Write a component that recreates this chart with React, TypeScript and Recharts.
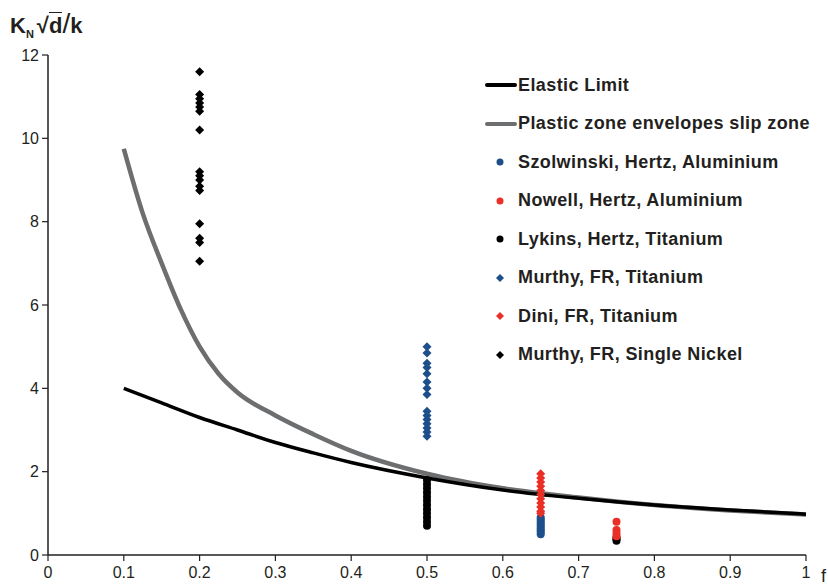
import React from "react";
import { ComposedChart, Line, Scatter, XAxis, YAxis } from "recharts";

const xTicks = [0, 0.1, 0.2, 0.3, 0.4, 0.5, 0.6, 0.7, 0.8, 0.9, 1];
const yTicks = [0, 2, 4, 6, 8, 10, 12];

const elasticX = [0.1, 0.15, 0.2, 0.25, 0.3, 0.35, 0.4, 0.5, 0.6, 0.7, 0.8, 0.9, 1];
const elasticY = [4.0, 3.65, 3.3, 3.0, 2.7, 2.45, 2.22, 1.85, 1.56, 1.36, 1.2, 1.08, 0.98];

const plasticX = [0.1, 0.125, 0.15, 0.175, 0.2, 0.225, 0.25, 0.3, 0.35, 0.4, 0.5, 0.6, 0.7, 0.8, 0.9, 1];
const plasticY = [9.75, 8.2, 7.0, 5.9, 5.0, 4.35, 3.9, 3.35, 2.9, 2.5, 1.95, 1.6, 1.38, 1.2, 1.07, 0.97];

const szolwinskiX = [0.65, 0.65, 0.65, 0.65, 0.65, 0.65, 0.65, 0.65, 0.65];
const szolwinskiY = [0.9, 0.85, 0.8, 0.75, 0.7, 0.65, 0.6, 0.55, 0.5];

const nowellX = [0.75, 0.75, 0.75, 0.75];
const nowellY = [0.8, 0.6, 0.52, 0.45];

const lykinsX = [0.5, 0.5, 0.5, 0.5, 0.5, 0.5, 0.5, 0.5, 0.5, 0.5, 0.5, 0.5, 0.75, 0.75, 0.75];
const lykinsY = [1.8, 1.7, 1.6, 1.5, 1.4, 1.3, 1.2, 1.1, 1.0, 0.9, 0.8, 0.7, 0.42, 0.38, 0.34];

const murthyTiX = Array(15).fill(0.5);
const murthyTiY = [5.0, 4.85, 4.6, 4.5, 4.35, 4.15, 4.0, 3.85, 3.45, 3.35, 3.25, 3.15, 3.05, 2.95, 2.85];

const diniX = Array(11).fill(0.65);
const diniY = [1.95, 1.85, 1.75, 1.65, 1.55, 1.45, 1.35, 1.25, 1.15, 1.05, 1.0];

const nickelX = Array(16).fill(0.2);
const nickelY = [11.6, 11.05, 10.95, 10.85, 10.75, 10.65, 10.2, 9.2, 9.1, 9.0, 8.85, 8.75, 7.95, 7.6, 7.5, 7.05];

const seriesNames = [
  "Elastic Limit",
  "Plastic zone envelopes slip zone",
  "Szolwinski, Hertz, Aluminium",
  "Nowell, Hertz, Aluminium",
  "Lykins, Hertz, Titanium",
  "Murthy, FR, Titanium",
  "Dini, FR, Titanium",
  "Murthy, FR, Single Nickel",
];

const BLUE = "#1d4f8b";
const RED = "#ea2f27";
const BLACK = "#000000";
const GRAY = "#6d6e70";

const zip = (xs: number[], ys: number[]) => xs.map((x, i) => ({ x, y: ys[i] }));

const circle = (color: string) => (props: any) => (
  <circle cx={props.cx} cy={props.cy} r={4} fill={color} />
);
const diamond = (color: string) => (props: any) => {
  const { cx, cy } = props;
  const s = 4.5;
  return <path d={`M${cx},${cy - s}L${cx + s},${cy}L${cx},${cy + s}L${cx - s},${cy}Z`} fill={color} />;
};

const legendItems = [
  { kind: "line", color: BLACK },
  { kind: "line", color: GRAY },
  { kind: "circle", color: BLUE },
  { kind: "circle", color: RED },
  { kind: "circle", color: BLACK },
  { kind: "diamond", color: BLUE },
  { kind: "diamond", color: RED },
  { kind: "diamond", color: BLACK },
];

const font = "'Liberation Sans', Arial, sans-serif";
const tickStyle = { fontFamily: "'Liberation Sans Narrow', 'Liberation Sans', Arial, sans-serif", fontSize: 16, fill: "#231f20" };

export default function App() {
  return (
    <div style={{ position: "absolute", left: 0, top: 0, width: 828, height: 586, background: "#fff", fontFamily: font }}>
      <ComposedChart width={828} height={586} margin={{ top: 55, right: 22, left: 8, bottom: 6 }}>
        <XAxis
          type="number"
          dataKey="x"
          domain={[0, 1]}
          ticks={xTicks}
          interval={0}
          allowDataOverflow
          tick={tickStyle}
          tickSize={6}
          tickMargin={6}
          height={25}
          axisLine={{ stroke: "#231f20", strokeWidth: 1.5 }}
          tickLine={{ stroke: "#231f20", strokeWidth: 1.2 }}
        />
        <YAxis
          type="number"
          dataKey="y"
          domain={[0, 12]}
          ticks={yTicks}
          interval={0}
          allowDataOverflow
          tick={tickStyle}
          tickSize={6}
          tickMargin={3}
          width={40}
          axisLine={{ stroke: "#231f20", strokeWidth: 1.5 }}
          tickLine={{ stroke: "#231f20", strokeWidth: 1.2 }}
        />
        <Line data={zip(plasticX, plasticY)} dataKey="y" type="monotone" stroke={GRAY} strokeWidth={4.5} dot={false} isAnimationActive={false} />
        <Line data={zip(elasticX, elasticY)} dataKey="y" type="monotone" stroke={BLACK} strokeWidth={3.5} dot={false} isAnimationActive={false} />
        <Scatter data={zip(nickelX, nickelY)} dataKey="y" shape={diamond(BLACK)} isAnimationActive={false} />
        <Scatter data={zip(murthyTiX, murthyTiY)} dataKey="y" shape={diamond(BLUE)} isAnimationActive={false} />
        <Scatter data={zip(lykinsX, lykinsY)} dataKey="y" shape={circle(BLACK)} isAnimationActive={false} />
        <Scatter data={zip(szolwinskiX, szolwinskiY)} dataKey="y" shape={circle(BLUE)} isAnimationActive={false} />
        <Scatter data={zip(diniX, diniY)} dataKey="y" shape={diamond(RED)} isAnimationActive={false} />
        <Scatter data={zip(nowellX, nowellY)} dataKey="y" shape={circle(RED)} isAnimationActive={false} />
      </ComposedChart>

      <div style={{ position: "absolute", left: 10, top: 8, fontWeight: "bold", fontSize: 22, color: "#231f20", whiteSpace: "nowrap" }}>
        K<sub style={{ fontSize: 11 }}>N</sub>
        <span style={{ marginLeft: 3 }}>√</span>
        <span style={{ borderTop: "1.5px solid #231f20" }}>d</span>
        <span style={{ fontSize: 28, fontWeight: "normal" }}>/</span>k
      </div>
      <div style={{ position: "absolute", left: 821, top: 566, fontSize: 18, color: "#231f20" }}>f</div>

      <div style={{ position: "absolute", left: 484, top: 66 }}>
        {seriesNames.map((name, i) => {
          const it = legendItems[i];
          return (
            <div key={name} style={{ height: 38.5, display: "flex", alignItems: "center", whiteSpace: "nowrap" }}>
              <svg width={34} height={20} style={{ flex: "none" }}>
                {it.kind === "line" && <line x1={3} y1={10} x2={31} y2={10} stroke={it.color} strokeWidth={4} strokeLinecap="round" />}
                {it.kind === "circle" && <circle cx={16} cy={10} r={3.5} fill={it.color} />}
                {it.kind === "diamond" && <path d="M16,6L20,10L16,14L12,10Z" fill={it.color} />}
              </svg>
              <span style={{ fontWeight: "bold", fontSize: 18, letterSpacing: 0.4, color: "#231f20" }}>{name}</span>
            </div>
          );
        })}
      </div>
    </div>
  );
}
